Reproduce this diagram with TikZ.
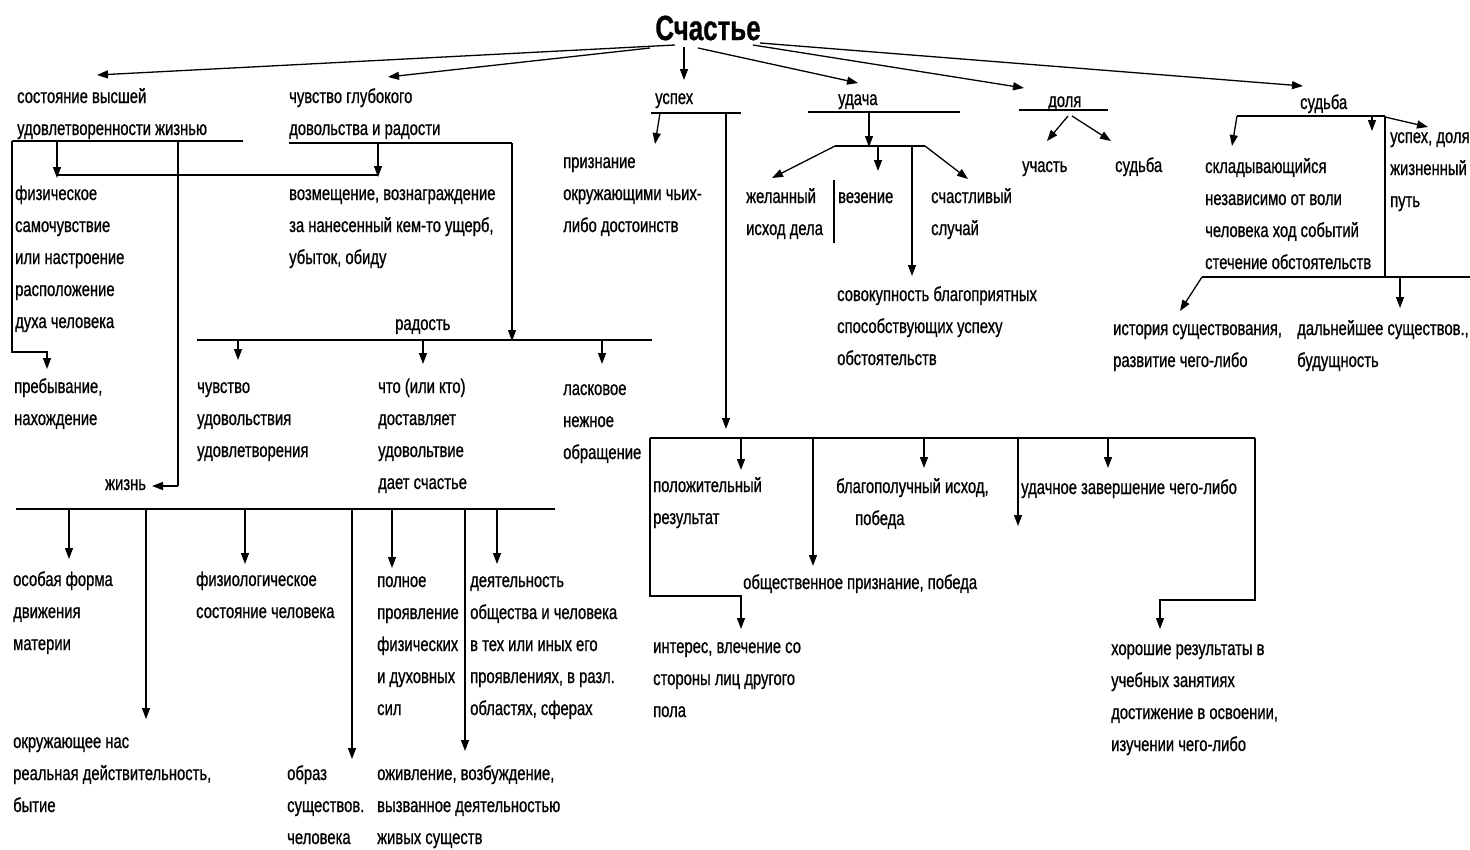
\documentclass[tikz,border=0pt]{standalone}
\usepackage{fontspec}
\setmainfont{Liberation Sans}[FakeStretch=0.74,FakeBold=0.8]
\usetikzlibrary{arrows.meta}
\tikzset{
 x=1pt,y=-1pt,
 ln/.style={line width=1.3pt},
 hl/.style={line width=2pt},
 ar/.style={line width=1.3pt,-{Triangle[length=11pt,width=8pt]}},
 txt/.style={inner sep=0pt,anchor=base west,font=\fontsize{20}{24}\selectfont},
}
\newcommand\tb[4]{\foreach \tline [count=\nn] in {#4}{\node[txt] (#1-\nn) at (#2,{#3+5+32*(\nn-1)}) {\tline};}}
\begin{document}
\begin{tikzpicture}
\useasboundingbox (0,0) rectangle (1470,849);
% title
\node[inner sep=0pt,font=\fontsize{35}{40}\selectfont\bfseries] (title) at (708,28) {Счастье};
% texts
\tb{sost}{17}{98}{{состояние высшей},{удовлетворенности жизнью}}
\tb{chg}{289}{98}{{чувство глубокого},{довольства и радости}}
\tb{usp}{655}{99}{{успех}}
\tb{uda}{838}{100}{{удача}}
\tb{dol}{1048}{102}{{доля}}
\tb{sud}{1300}{104}{{судьба}}
\tb{fiz}{15}{195}{{физическое},{самочувствие},{или настроение},{расположение},{духа человека}}
\tb{vozm}{289}{195}{{возмещение, вознаграждение},{за нанесенный кем-то ущерб,},{убыток, обиду}}
\tb{preb}{14}{388}{{пребывание,},{нахождение}}
\tb{rad}{395}{325}{{радость}}
\tb{chuv}{197}{388}{{чувство},{удовольствия},{удовлетворения}}
\tb{chto}{378}{388}{{что (или кто)},{доставляет},{удовольтвие},{дает счастье}}
\tb{lask}{563}{390}{{ласковое},{нежное},{обращение}}
\tb{zhiz}{105}{485}{{жизнь}}
\tb{osob}{13}{581}{{особая форма},{движения},{материи}}
\tb{okr}{13}{743}{{окружающее нас},{реальная действительность,},{бытие}}
\tb{fizl}{196}{581}{{физиологическое},{состояние человека}}
\tb{poln}{377}{582}{{полное},{проявление},{физических},{и духовных},{сил}}
\tb{deya}{470}{582}{{деятельность},{общества и человека},{в тех или иных его},{проявлениях, в разл.},{областях, сферах}}
\tb{obr}{287}{775}{{образ},{существов.},{человека}}
\tb{ozh}{377}{775}{{оживление, возбуждение,},{вызванное деятельностью},{живых существ}}
\tb{priz}{563}{163}{{признание},{окружающими чьих-},{либо достоинств}}
\tb{zhel}{746}{198}{{желанный},{исход дела}}
\tb{vez}{838}{198}{{везение}}
\tb{schs}{931}{198}{{счастливый},{случай}}
\tb{sov}{837}{296}{{совокупность благоприятных},{способствующих успеху},{обстоятельств}}
\tb{uch}{1022}{167}{{участь}}
\tb{sudb}{1115}{167}{{судьба}}
\tb{skl}{1205}{168}{{складывающийся},{независимо от воли},{человека ход событий},{стечение обстоятельств}}
\tb{uspd}{1390}{138}{{успех, доля},{жизненный},{путь}}
\tb{ist}{1113}{330}{{история существования,},{развитие чего-либо}}
\tb{dal}{1297}{330}{{дальнейшее существов.,},{будущность}}
\tb{pol}{653}{487}{{положительный},{результат}}
\tb{blg}{836}{488}{{благополучный исход,}}
\tb{pob}{855}{520}{{победа}}
\tb{udz}{1021}{489}{{удачное завершение чего-либо}}
\tb{obs}{743}{584}{{общественное признание, победа}}
\tb{int}{653}{648}{{интерес, влечение со},{стороны лиц другого},{пола}}
\tb{hor}{1111}{650}{{хорошие результаты в},{учебных занятиях},{достижение в освоении,},{изучении чего-либо}}
% title arrows
\draw[ar] (675,45) -- (97,75);
\draw[ar] (650,48) -- (388,77);
\draw[ar] (684,47) -- (684,80);
\draw[ar] (698,48) -- (858,83);
\draw[ar] (753,45) -- (1024,88);
\draw[ar] (760,43) -- (1303,86);
% состояние / чувство
\draw[hl] (12,141) -- (243,141);
\draw[ln] (12,141) -- (12,352) -- (47,352);
\draw[ar] (47,351) -- (47,369);
\draw[ar] (57,141) -- (57,178);
\draw[ln] (178,141) -- (178,486);
\draw[ar] (178,486) -- (152,486);
\draw[hl] (289,143) -- (512,143);
\draw[ar] (378,143) -- (378,177);
\draw[hl] (57,175) -- (378,175);
\draw[ar] (512,143) -- (512,341);
% радость
\draw[hl] (197,340) -- (652,340);
\draw[ar] (238,340) -- (238,360);
\draw[ar] (423,340) -- (423,364);
\draw[ar] (602,340) -- (602,364);
% жизнь
\draw[hl] (16,509) -- (555,509);
\draw[ar] (69,509) -- (69,559);
\draw[ar] (146,509) -- (146,719);
\draw[ar] (245,509) -- (245,564);
\draw[ar] (352,509) -- (352,759);
\draw[ar] (392,509) -- (392,568);
\draw[ar] (465,509) -- (465,751);
\draw[ar] (497,509) -- (497,564);
% успех
\draw[hl] (651,113) -- (741,113);
\draw[ar] (660,113) -- (655,144);
\draw[ar] (726,113) -- (726,429);
\draw[hl] (650,438) -- (1255,438);
\draw[ln] (650,438) -- (650,596) -- (741,596);
\draw[ar] (741,595) -- (741,629);
\draw[ln] (1255,438) -- (1255,600) -- (1160,600);
\draw[ar] (1160,599) -- (1160,629);
\draw[ar] (741,438) -- (741,470);
\draw[ar] (813,438) -- (813,566);
\draw[ar] (924,438) -- (924,468);
\draw[ar] (1018,438) -- (1018,526);
\draw[ar] (1108,438) -- (1108,468);
% удача
\draw[hl] (808,112) -- (960,112);
\draw[ar] (869,112) -- (869,147);
\draw[hl] (835,146) -- (925,146);
\draw[ar] (835,146) -- (772,178);
\draw[ar] (925,146) -- (968,179);
\draw[ar] (878,146) -- (878,171);
\draw[ar] (912,146) -- (912,276);
\draw[ln] (834,180) -- (834,243);
% доля
\draw[hl] (1019,110) -- (1108,110);
\draw[ar] (1068,116) -- (1047,141);
\draw[ar] (1072,116) -- (1111,141);
% судьба
\draw[hl] (1237,116) -- (1385,116);
\draw[ar] (1237,116) -- (1232,146);
\draw[ar] (1385,117) -- (1428,127);
\draw[ar] (1372,116) -- (1372,131);
\draw[ln] (1385,116) -- (1385,277);
\draw[hl] (1202,277) -- (1470,277);
\draw[ar] (1202,277) -- (1180,311);
\draw[ar] (1400,277) -- (1400,308);
\end{tikzpicture}
\end{document}
